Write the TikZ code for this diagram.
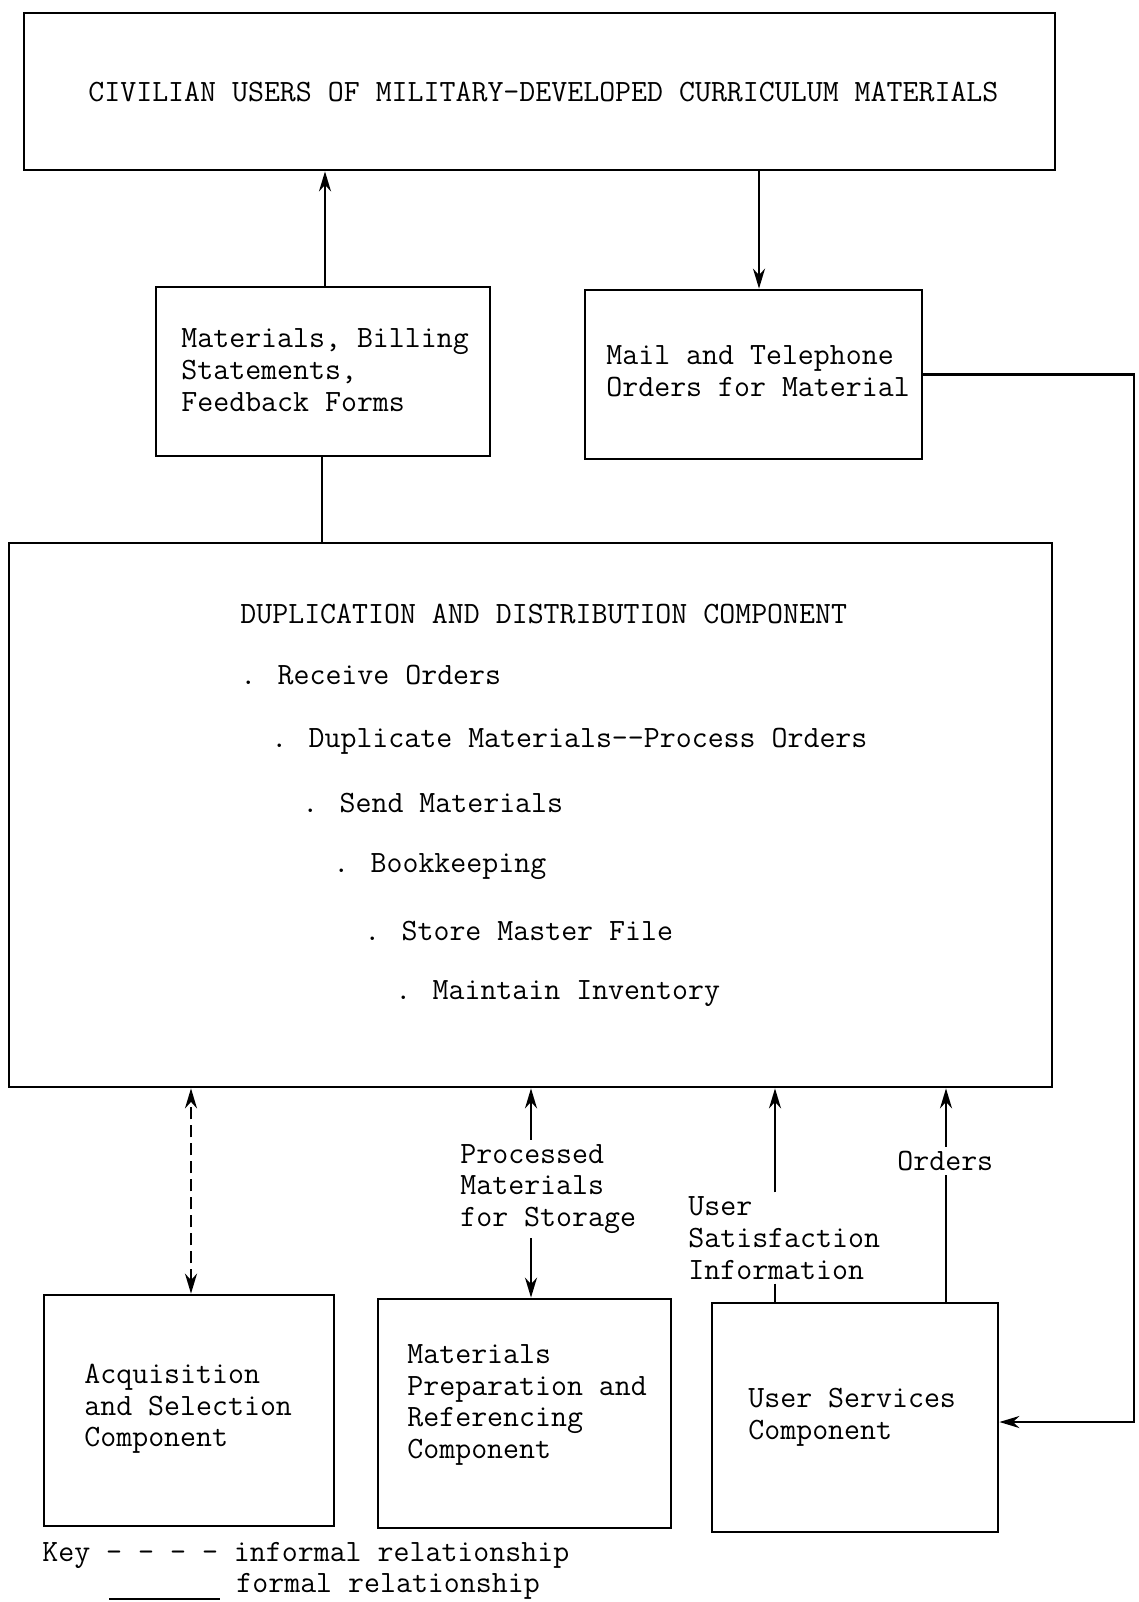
\documentclass[tikz,border=0pt]{standalone}
\usepackage{fontspec}
\usetikzlibrary{arrows.meta}
\begin{document}
\begin{tikzpicture}[x=0.5pt,y=-0.5pt,
  box/.style={draw, line width=1.4pt, inner sep=0pt},
  txt/.style={font=\ttfamily\fontsize{15.5}{15.85}\selectfont, inner sep=0pt, anchor=west, align=left},
  lbl/.style={txt, inner sep=2pt},
  link/.style={line width=1.2pt},
  arr/.style={line width=1.2pt, -{Stealth[length=10pt,width=6pt]}},
  darr/.style={line width=1.2pt, dash pattern=on 6pt off 3pt, {Stealth[length=10pt,width=6pt]}-{Stealth[length=10pt,width=6pt]}}]
\useasboundingbox (0,0) rectangle (1139,1602);
% boxes
\node[box, minimum width=515.5pt, minimum height=78.5pt] (top) at (539.5,91.5) {};
\node[box, minimum width=167pt, minimum height=84.5pt] (mat) at (323,371.5) {};
\node[box, minimum width=168.5pt, minimum height=84.5pt] (mail) at (753.5,374.5) {};
\node[box, minimum width=521.5pt, minimum height=272pt] (dup) at (530.5,815) {};
\node[box, minimum width=145pt, minimum height=115.5pt] (acq) at (189,1410.5) {};
\node[box, minimum width=146.5pt, minimum height=114.5pt] (prep) at (524.5,1413.5) {};
\node[box, minimum width=143pt, minimum height=114.5pt] (us) at (855,1417.5) {};
% texts
\node[txt] (toptxt) at (88,92) {CIVILIAN USERS OF MILITARY-DEVELOPED CURRICULUM MATERIALS};
\node[txt] (mattxt) at (181,370) {Materials, Billing\\Statements,\\Feedback Forms};
\node[txt] (mailtxt) at (606,371.5) {Mail and Telephone\\Orders for Material};
\node[txt] (dtitle) at (240,614) {DUPLICATION AND DISTRIBUTION COMPONENT};
\node[txt] (d1) at (240,675) {. Receive Orders};
\node[txt] (d2) at (271,741) {. Duplicate Materials--Process Orders};
\node[txt] (d3) at (302,803) {. Send Materials};
\node[txt] (d4) at (333,867) {. Bookkeeping};
\node[txt] (d5) at (364,931) {. Store Master File};
\node[txt] (d6) at (395,994) {. Maintain Inventory};
\node[txt] (acqtxt) at (84,1409) {Acquisition\\and Selection\\Component};
\node[txt] (preptxt) at (407,1405) {Materials\\Preparation and\\Referencing\\Component};
\node[txt] (ustxt) at (748,1417) {User Services\\Component};
% connector labels
\node[lbl] (proc) at (456,1189) {Processed\\Materials\\for Storage};
\node[lbl] (usat) at (684,1238) {User\\Satisfaction\\Information};
\node[lbl] (ord) at (893,1161) {Orders};
% connector x positions
\coordinate (xa) at (325,0);
\coordinate (xb) at (759,0);
\coordinate (xc) at (322,0);
\coordinate (xd) at (191,0);
\coordinate (xe) at (531,0);
\coordinate (xf) at (775,0);
\coordinate (xg) at (946,0);
\coordinate (rc) at (1134,1422);
% connectors
\draw[arr] (xa |- mat.north) -- (xa |- top.south);
\draw[arr] (xb |- top.south) -- (xb |- mail.north);
\draw[link] (xc |- mat.south) -- (xc |- dup.north);
\draw[arr] (mail.east) -| (rc) -- (us.east |- rc);
\draw[darr] (xd |- acq.north) -- (xd |- dup.south);
\draw[arr] (xe |- proc.north) -- (xe |- dup.south);
\draw[arr] (xe |- proc.south) -- (xe |- prep.north);
\draw[arr] (xf |- usat.north) -- (xf |- dup.south);
\draw[link] (xf |- usat.south) -- (xf |- us.north);
\draw[arr] (xg |- ord.north) -- (xg |- dup.south);
\draw[link] (xg |- ord.south) -- (xg |- us.north);
% key
\node[txt] (key1) at (42,1555) {Key - - - - informal relationship};
\node[txt] (key2) at (236,1586) {formal relationship};
\coordinate (k1) at (109,1599);
\coordinate (k2) at (220,1599);
\draw[link] (k1) -- (k2);
\end{tikzpicture}
\end{document}
